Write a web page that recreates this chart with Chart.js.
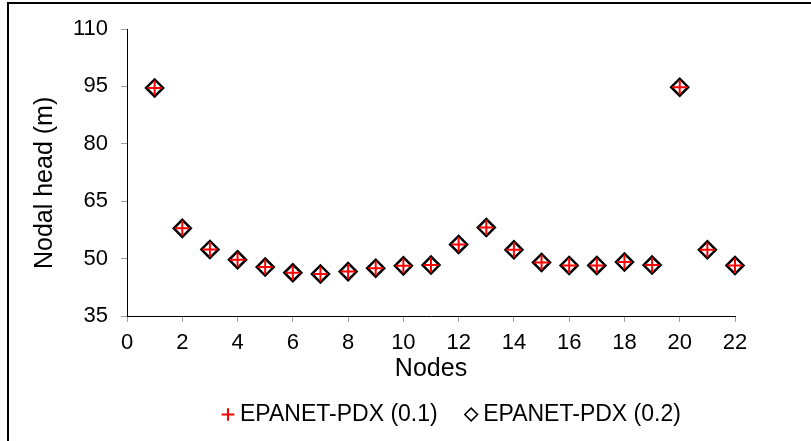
<!DOCTYPE html>
<html>
<head>
<meta charset="utf-8">
<script src="https://cdn.jsdelivr.net/npm/chart.js@4.4.0/dist/chart.umd.min.js"></script>
<style>
  html, body { margin: 0; padding: 0; background: #fff; overflow: hidden; }
  #wrap { position: relative; width: 811px; height: 441px; }
  #frame { position: absolute; left: 7px; top: 2px; width: 900px; height: 500px;
           border-left: 2px solid #000; border-top: 2px solid #000; pointer-events: none; }
</style>
</head>
<body>
<div id="wrap">
  <canvas id="headChart" width="811" height="441"></canvas>
  <div id="frame"></div>
</div>
<script>
// Node numbers (x) and nodal heads in m (y)
const nodes = [1, 2, 3, 4, 5, 6, 7, 8, 9, 10, 11, 12, 13, 14, 15, 16, 17, 18, 19, 20, 21, 22];
const headPdx01 = [94.6, 57.9, 52.4, 49.7, 47.8, 46.3, 46.0, 46.6, 47.5, 48.1, 48.3,
                   53.7, 58.1, 52.3, 49.0, 48.2, 48.2, 49.1, 48.3, 94.8, 52.3, 48.2];
const headPdx02 = [94.6, 57.9, 52.4, 49.7, 47.8, 46.3, 46.0, 46.6, 47.5, 48.1, 48.3,
                   53.7, 58.1, 52.3, 49.0, 48.2, 48.2, 49.1, 48.3, 94.8, 52.3, 48.2];
const seriesNames = ['EPANET-PDX (0.1)', 'EPANET-PDX (0.2)'];
const xTicks = [0, 2, 4, 6, 8, 10, 12, 14, 16, 18, 20, 22];
const yTicks = [35, 50, 65, 80, 95, 110];

Chart.defaults.font.family = "'Liberation Sans', Arial, sans-serif";

// move the legend to where it sits in the original figure
const legendPlace = {
    id: 'legendPlace',
    afterLayout(chart) {
        const lg = chart.legend;
        lg.left = 194.5;
        lg.right = 811;
        lg.top = 370;
        lg.bottom = 441;
    }
};

const toPoints = ys => nodes.map((n, i) => ({ x: n, y: ys[i] }));

const ctx = document.getElementById('headChart').getContext('2d');
const headChart = new Chart(ctx, {
    type: 'scatter',
    data: {
        datasets: [{
            label: seriesNames[0],
            data: toPoints(headPdx01),
            pointStyle: 'cross',
            pointRadius: 7.5,
            pointHoverRadius: 7.5,
            pointBorderWidth: 2,
            borderColor: '#ff0000',
            backgroundColor: '#ff0000',
            clip: false
        }, {
            label: seriesNames[1],
            data: toPoints(headPdx02),
            pointStyle: 'rectRot',
            pointRadius: 8.5,
            pointHoverRadius: 8.5,
            pointBorderWidth: 2.5,
            borderColor: '#000000',
            backgroundColor: '#ffffff',
            clip: false
        }]
    },
    options: {
        responsive: false,
        animation: false,
        layout: { padding: { left: 0, right: 76, top: 29, bottom: 0 } },
        plugins: {
            tooltip: { enabled: false },
            legend: {
                position: 'bottom',
                align: 'start',
                maxHeight: 40,
                labels: {
                    usePointStyle: true,
                    boxWidth: 1,
                    boxHeight: 9,
                    padding: 33,
                    color: '#000',
                    font: { size: 23 },
                    generateLabels(chart) {
                        const items = Chart.defaults.plugins.legend.labels.generateLabels(chart);
                        items.forEach((it, i) => { it.lineWidth = i === 0 ? 2 : 1.5; });
                        return items;
                    }
                }
            }
        },
        scales: {
            x: {
                type: 'linear',
                min: xTicks[0],
                max: xTicks[xTicks.length - 1],
                ticks: { stepSize: xTicks[1] - xTicks[0], color: '#000', font: { size: 22 },
                         padding: 8, maxRotation: 0, autoSkip: false },
                grid: { drawOnChartArea: false, tickLength: 6, color: '#a0a0a0' },
                border: { color: '#000', width: 1 },
                title: { display: true, text: 'Nodes', color: '#000', font: { size: 25 },
                         padding: { top: 0, bottom: 17 } },
                afterFit(scale) { scale.height = 85; }
            },
            y: {
                min: yTicks[0],
                max: yTicks[yTicks.length - 1],
                ticks: { stepSize: yTicks[1] - yTicks[0], color: '#000', font: { size: 22 }, padding: 13 },
                grid: { drawOnChartArea: false, tickLength: 6, color: '#a0a0a0' },
                border: { color: '#000', width: 1 },
                title: { display: true, text: 'Nodal head (m)   ', color: '#000', font: { size: 25 },
                         padding: { top: 30, bottom: 0 } },
                afterFit(scale) { scale.width = 127; }
            }
        }
    },
    plugins: [legendPlace]
});
</script>
</body>
</html>
